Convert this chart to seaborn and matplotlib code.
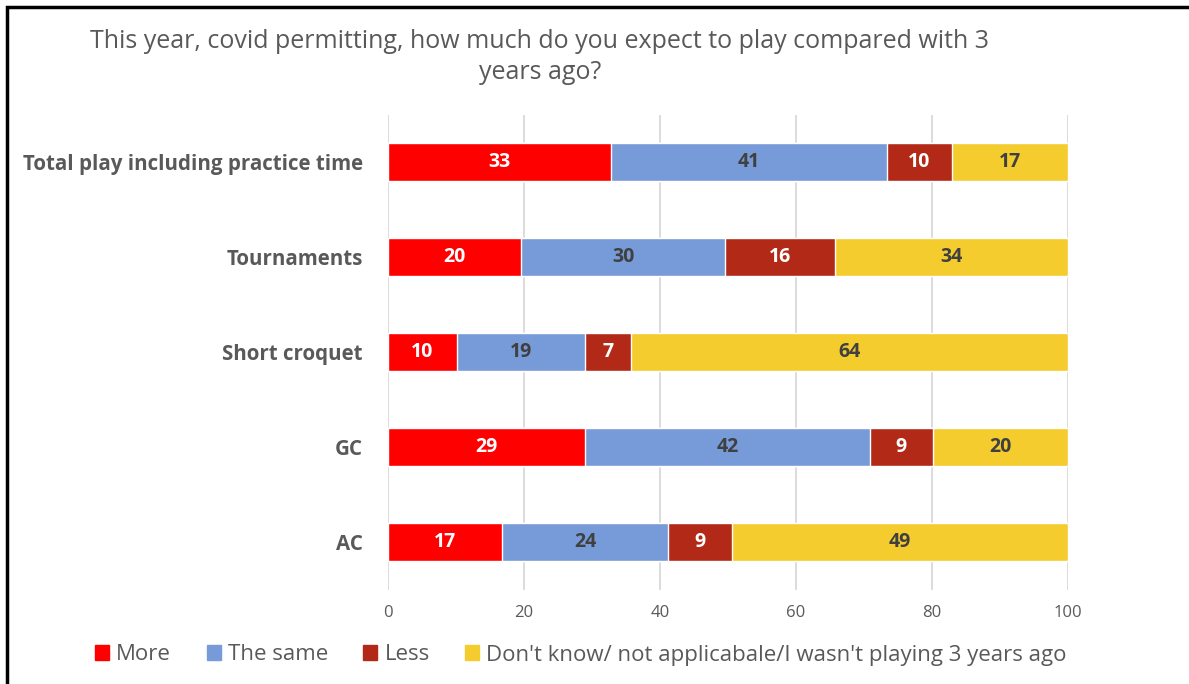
import pandas as pd
import numpy as np
import matplotlib
matplotlib.use("Agg")
import matplotlib.pyplot as plt
import matplotlib.patches as mpatches
import seaborn as sns

# survey answers (percent of respondents)
categories = ["Total play including practice time", "Tournaments", "Short croquet", "GC", "AC"]
more = [32.8, 19.6, 10.1, 29.0, 16.8]
same = [40.6, 30.0, 18.9, 41.9, 24.4]
less = [9.5, 16.1, 6.7, 9.2, 9.4]
dont_know = [17.1, 34.3, 64.3, 19.9, 49.4]

series_names = ["More", "The same", "Less", "Don't know/ not applicabale/I wasn't playing 3 years ago"]
colours = ["#FF0000", "#779BD8", "#B22A17", "#F5CC2E"]
label_colours = ["white", "#404040", "white", "#404040"]

veri = pd.DataFrame({"kategori": categories, "More": more, "The same": same,
                     "Less": less, "Dont": dont_know})
cols = ["More", "The same", "Less", "Dont"]
cum = veri[cols].cumsum(axis=1)

sns.set_style("white")
plt.rcParams["font.family"] = ["Open Sans", "DejaVu Sans"]

fig = plt.figure(figsize=(11.89, 6.84), dpi=100)
ax = fig.add_axes([388 / 1189, 1 - 590 / 684, 680 / 1189, 475.5 / 684])

# stacked bars: draw cumulative totals from the longest down
for i in range(3, -1, -1):
    sns.barplot(x=cum[cols[i]], y=veri["kategori"], color=colours[i],
                width=0.4, orient="h", ax=ax, saturation=1, zorder=3)

# segment labels
for r in range(len(categories)):
    for i, c in enumerate(cols):
        v = veri.loc[r, c]
        mid = cum.loc[r, c] - v / 2
        ax.text(mid, r, f"{v:.0f}", ha="center", va="center", fontsize=14,
                fontweight="bold", color=label_colours[i], zorder=4)

ax.set_xlim(0, 100)
ax.set_ylim(4.5, -0.5)
ax.set_xticks([0, 20, 40, 60, 80, 100])
ax.xaxis.grid(True, color="#D9D9D9", linewidth=1.3, zorder=0)
ax.set_axisbelow(True)
for s in ax.spines.values():
    s.set_visible(False)
ax.set_xlabel("")
ax.set_ylabel("")
ax.tick_params(axis="x", length=0, labelsize=12, labelcolor="#595959", pad=11)
ax.tick_params(axis="y", length=0, pad=18)
for t in ax.get_yticklabels():
    t.set_fontsize(14.8)
    t.set_fontweight("bold")
    t.set_color("#595959")

fig.text(540 / 1189, 1 - 57 / 684,
         "This year, covid permitting, how much do you expect to play compared with 3\nyears ago?",
         ha="center", va="center", fontsize=18, color="#595959", linespacing=1.32)

handles = [mpatches.Patch(color=c, label=n) for c, n in zip(colours, series_names)]
fig.legend(handles=handles, loc="center", bbox_to_anchor=(581 / 1189, 1 - 655 / 684),
           ncol=4, frameon=False, fontsize=16, handlelength=0.63, handleheight=0.63,
           handletextpad=0.32, columnspacing=1.6, labelcolor="#595959",
           borderpad=0, borderaxespad=0)

# outer frame
fig.add_artist(mpatches.Rectangle((7 / 1189, -0.1), 1.2, 1 - 7 / 684 + 0.1,
                                  transform=fig.transFigure, fill=False,
                                  edgecolor="black", linewidth=2.5))

fig.savefig("out.png", dpi=100)
